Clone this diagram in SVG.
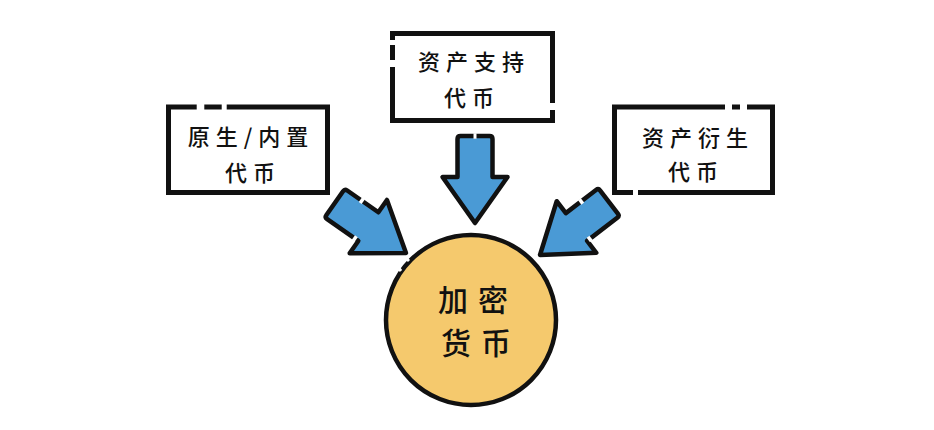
<svg xmlns="http://www.w3.org/2000/svg" width="934" height="430" viewBox="0 0 934 430">
<style>
.box{fill:#fff;stroke:#111;stroke-width:5}
.gap{stroke:#fff;stroke-width:7;stroke-linecap:butt}
.ag{stroke:#fff;stroke-width:5.5;stroke-linecap:butt}
.arrow{fill:#4A9AD5;stroke:#111;stroke-width:4.5;stroke-linejoin:round}
.t{font-family:"Noto Sans CJK SC","Noto Sans CJK JP",sans-serif;font-weight:500;fill:#111;text-anchor:middle}
.s{font-size:22px;letter-spacing:6px}
.b{font-size:30px;letter-spacing:10px}
</style>
<defs>
<path id="arr" d="M0,0 L-32.5,-46 L-17.5,-46 L-17.5,-84 Q-17.5,-87 -14.5,-87 L14.5,-87 Q17.5,-87 17.5,-84 L17.5,-46 L32.5,-46 Z"/>
</defs>
<rect width="934" height="430" fill="#fff"/>
<g id="connectors">
<g transform="translate(475,223)">
<use href="#arr" class="arrow"/>
<line class="ag" x1="-1.5" y1="-87" x2="1.5" y2="-87"/>
</g>
<g transform="translate(406,253) rotate(-55)">
<use href="#arr" class="arrow"/>
<line class="ag" x1="17.5" y1="-68" x2="17.5" y2="-64.5"/>
<line class="ag" x1="-17.5" y1="-52" x2="-17.5" y2="-48.5"/>
</g>
<g transform="translate(540,255) rotate(52.5)">
<use href="#arr" class="arrow"/>
<line class="ag" x1="-17.5" y1="-67" x2="-17.5" y2="-63.5"/>
<line class="ag" x1="17.5" y1="-51" x2="17.5" y2="-47.5"/>
</g>
</g>
<g id="node-native">
<rect class="box" x="168.5" y="107" width="159" height="85.5"/>
<line class="gap" x1="196.7" y1="107" x2="204.3" y2="107"/>
<line class="gap" x1="221.7" y1="107" x2="226.7" y2="107"/>
<text class="t s" x="251" y="145">原生/内置</text>
<text class="t s" x="253" y="181">代币</text>
</g>
<g id="node-asset">
<rect class="box" x="392.5" y="33.5" width="160" height="87"/>
<line class="gap" x1="392.5" y1="40" x2="392.5" y2="45"/>
<line class="gap" x1="392.5" y1="60" x2="392.5" y2="67"/>
<line class="gap" x1="552.5" y1="103" x2="552.5" y2="110"/>
<text class="t s" x="474" y="70">资产支持</text>
<text class="t s" x="472" y="106">代币</text>
</g>
<g id="node-derivative">
<rect class="box" x="614.5" y="107" width="158" height="85.5"/>
<line class="gap" x1="725" y1="107" x2="732" y2="107"/>
<line class="gap" x1="740" y1="107" x2="747" y2="107"/>
<line class="gap" x1="633" y1="192.5" x2="638" y2="192.5"/>
<text class="t s" x="698" y="146">资产衍生</text>
<text class="t s" x="696" y="180">代币</text>
</g>
<g id="node-crypto">
<circle cx="471" cy="320" r="85" fill="#F5C96D" stroke="#111" stroke-width="4.5"/>
<line class="gap" x1="405" y1="257" x2="409" y2="261" style="stroke-width:3"/>
<line class="gap" x1="398" y1="267" x2="401" y2="271" style="stroke-width:3"/>
<text class="t b" x="478" y="311">加密</text>
<text class="t b" x="481" y="354">货币</text>
</g>
</svg>
